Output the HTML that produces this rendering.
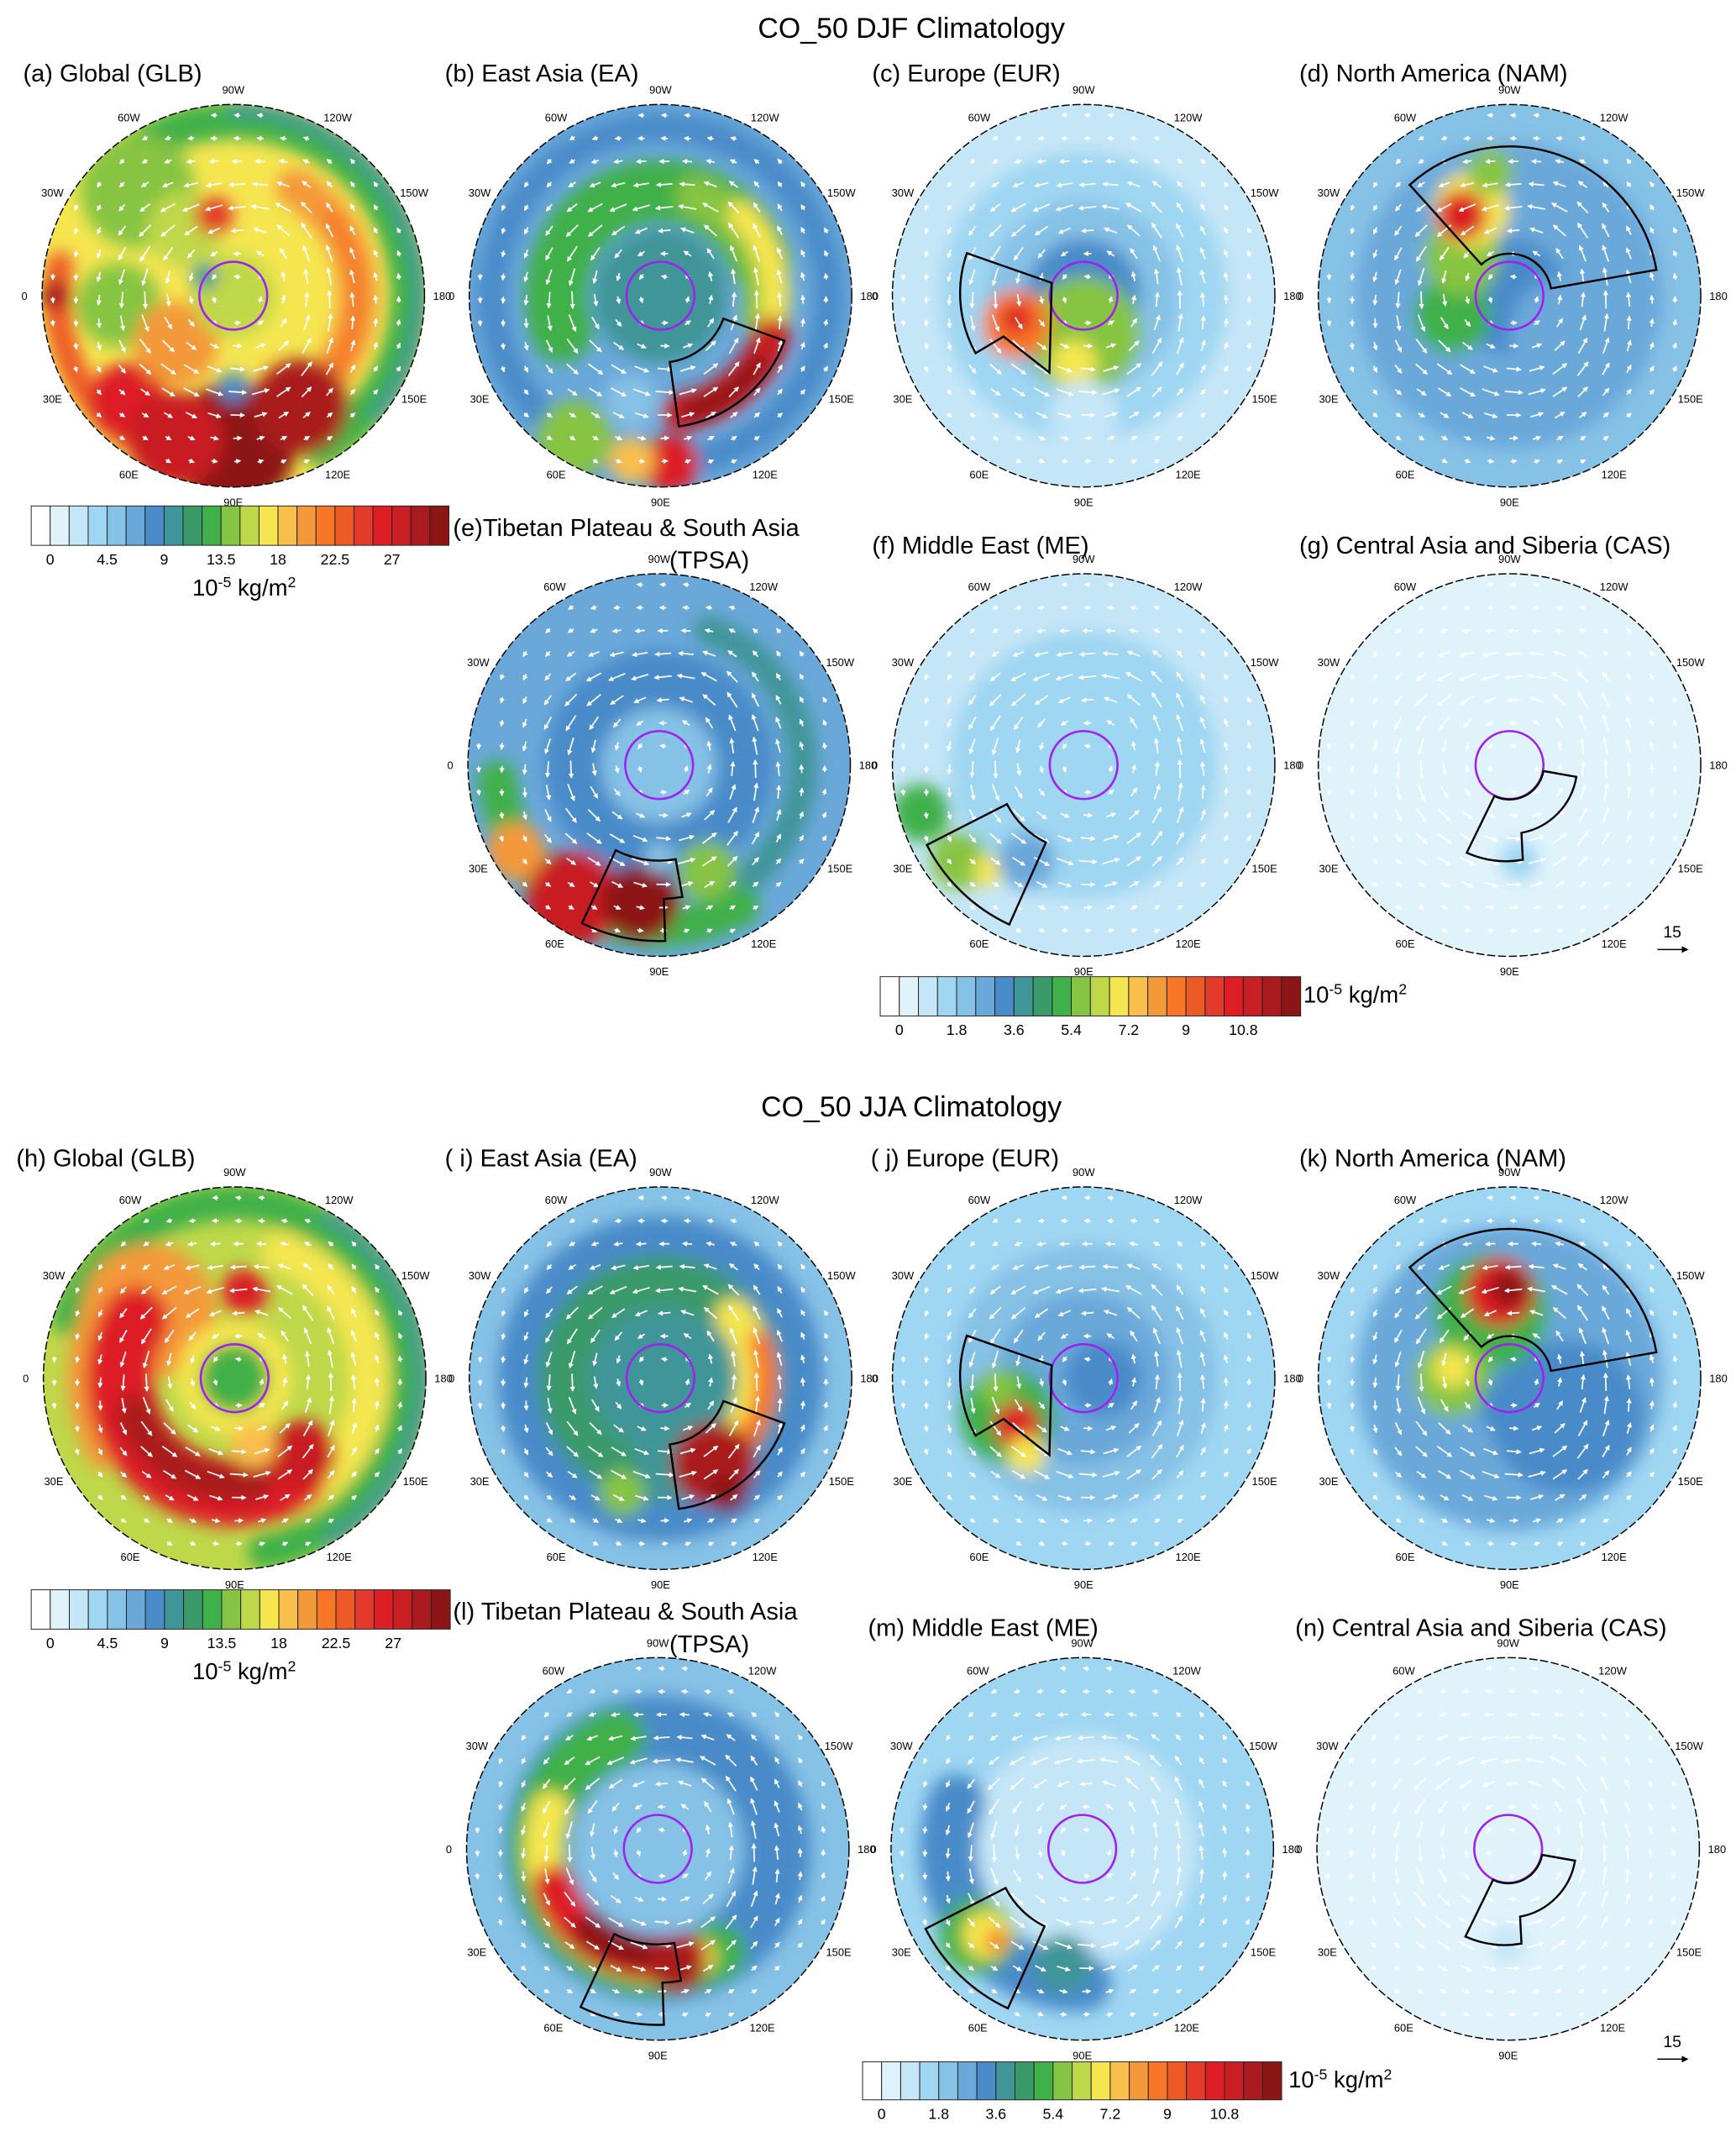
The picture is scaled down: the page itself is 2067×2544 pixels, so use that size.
<!DOCTYPE html>
<html><head><meta charset="utf-8"><style>
html,body{margin:0;padding:0;background:#fff}
svg{display:block}
text{font-family:"Liberation Sans",sans-serif}
</style></head><body>
<svg id="fig" width="2067" height="2544" viewBox="0 0 1280 1575.4" preserveAspectRatio="none" xmlns="http://www.w3.org/2000/svg">
<defs>
<filter id="blur" x="-50%" y="-50%" width="200%" height="200%"><feGaussianBlur stdDeviation="6"/></filter>
<marker id="ah" viewBox="0 0 10 10" refX="8" refY="5" markerWidth="3.5" markerHeight="3.5" orient="auto"><path d="M0,0 L10,5 L0,10 z" fill="#fff"/></marker>
<marker id="ahk" viewBox="0 0 10 10" refX="8" refY="5" markerWidth="5" markerHeight="5" orient="auto"><path d="M0,0 L10,5 L0,10 z" fill="#000"/></marker>
</defs>
<text x="672" y="28" font-size="21" text-anchor="middle">CO_50 DJF Climatology</text>
<text x="672" y="823" font-size="21" text-anchor="middle">CO_50 JJA Climatology</text>
</svg>
<script>
const palette=["#ffffff","#e0f3fb","#c5e6f7","#9fd6f2","#86c1e6","#6aa8da","#4a8bc9","#3f9598","#3a9a6a","#40b04a","#86c443","#bfd84a","#f5e650","#f9bf4d","#f4993a","#f77628","#ee5a25","#e43a2b","#dd1f25","#c81e24","#aa1a1f","#8c1515"];
const globalTicks=["0","4.5","9","13.5","18","22.5","27"];
const regionalTicks=["0","1.8","3.6","5.4","7.2","9","10.8"];
const lonLabels=["90W","120W","150W","180","150E","120E","90E","60E","30E","0","30W","60W"];
const lonAngles=[-90,-60,-30,0,30,60,90,120,150,180,210,240];
const panelIds=["a","b","c","d","e","f","g","h","i","j","k","l","m","n"];
const panelCx=[172,487,799,1113,486,799,1113,173,487,799,1113,485,798,1112];
const panelCy=[218,218,218,218,564,564,564,1016,1016,1016,1016,1363,1363,1363];
const panelTitles=["(a) Global (GLB)","(b) East Asia (EA)","(c) Europe (EUR)","(d) North America (NAM)","(e)Tibetan Plateau & South Asia","(f) Middle East (ME)","(g) Central Asia and Siberia (CAS)","(h) Global (GLB)","( i) East Asia (EA)","( j) Europe (EUR)","(k) North America (NAM)","(l) Tibetan Plateau & South Asia","(m) Middle East (ME)","(n) Central Asia and Siberia (CAS)"];
const titleX=[17,328,643,958,334,643,958,12,328,642,958,334,640,955];
const titleY=[60,60,60,60,395,408,408,860,860,860,860,1194,1206,1206];
const baseColor=[12,5,2,4,5,2,1,11,4,3,3,4,3,1];
// layers: ['c',dx,dy,radius,colorIdx] or ['a',radius,angle1,angle2,width,colorIdx] (unit circle)
const layers=[
 [['a',0.92,230,420,0.2,9],['a',0.98,270,400,0.08,7],['c',-0.5,-0.55,0.3,10],['c',-0.6,0.05,0.22,10],['c',-0.25,-0.35,0.2,11],['a',0.65,-60,80,0.2,14],['a',0.65,-40,60,0.08,15],['a',0.92,110,190,0.14,16],['c',-0.93,0,0.08,20],['c',-0.55,0.55,0.2,18],['c',-0.3,0.25,0.22,14],['c',0,0.78,0.33,21],['c',0.35,0.58,0.25,20],['c',-0.3,0.75,0.25,19],['c',-0.1,-0.42,0.1,17],['c',0,0,0.22,11],['c',-0.15,-0.1,0.07,7],['c',0,0.48,0.08,6]],
 [['a',0.88,0,360,0.15,6],['a',0.55,160,340,0.32,9],['c',0,0,0.35,7],['a',0.55,-70,10,0.22,10],['a',0.6,-45,20,0.15,12],['a',0.62,20,80,0.2,19],['a',0.62,35,75,0.1,21],['c',0.05,0.88,0.15,18],['c',-0.15,0.86,0.12,13],['c',-0.45,0.75,0.2,10],['c',-0.15,0.55,0.14,4]],
 [['c',0,0,0.75,3],['c',0,0,0.5,4],['c',0,0,0.3,6],['c',0,0.2,0.3,10],['c',-0.35,0.15,0.18,15],['c',-0.35,0.12,0.08,18],['c',-0.05,0.35,0.12,12],['c',0,0.62,0.18,2]],
 [['c',0,0,0.8,5],['c',0,0,0.3,6],['c',0.3,0.2,0.3,5],['c',-0.3,0.1,0.2,9],['c',-0.25,-0.2,0.2,10],['c',-0.2,-0.45,0.2,12],['c',-0.1,-0.65,0.12,10],['c',-0.25,-0.42,0.13,18]],
 [['a',0.45,0,360,0.3,6],['c',0,0,0.3,4],['a',0.75,-70,60,0.15,7],['a',0.85,60,175,0.2,9],['c',-0.45,0.7,0.25,19],['c',-0.1,0.72,0.2,21],['c',-0.75,0.45,0.15,14],['c',0.25,0.55,0.15,10],['c',0,0.48,0.08,4]],
 [['c',0,0,0.7,3],['c',-0.85,0.25,0.15,9],['c',-0.65,0.5,0.15,10],['c',-0.5,0.55,0.08,12],['c',-0.35,0.45,0.06,15],['c',-0.3,0.5,0.15,5]],
 [['c',0.05,0.5,0.1,3]],
 [['a',0.92,200,440,0.18,9],['a',0.98,300,420,0.08,7],['a',0.7,-70,60,0.2,12],['c',-0.45,-0.35,0.35,14],['c',-0.55,-0.3,0.2,15],['a',0.8,150,220,0.15,14],['a',0.6,60,210,0.35,18],['a',0.55,80,160,0.2,20],['c',0.35,0.4,0.18,19],['c',0.05,-0.45,0.12,18],['c',0,0,0.3,12],['c',0,0,0.18,9],['c',0.1,0.35,0.12,13]],
 [['c',0,0,0.85,6],['c',0,0,0.65,7],['a',0.5,120,300,0.25,8],['c',0,0,0.25,7],['a',0.5,-40,30,0.2,12],['a',0.55,-20,40,0.12,15],['c',0.28,0.45,0.22,20],['c',0.35,0.6,0.1,21],['c',-0.2,0.6,0.12,10]],
 [['c',0,0,0.7,4],['c',0,0,0.45,5],['c',0.1,0,0.2,6],['c',-0.4,0.2,0.25,9],['c',-0.35,0.25,0.12,18],['c',-0.3,0.4,0.1,12],['c',-0.45,0.05,0.1,10]],
 [['c',0,0,0.8,5],['c',0.3,0.2,0.4,6],['c',-0.1,-0.35,0.3,9],['c',-0.3,0,0.2,10],['c',-0.05,-0.45,0.18,18],['c',0,-0.47,0.1,21],['c',-0.3,-0.05,0.1,12],['c',0.05,0.15,0.2,6]],
 [['c',0,0,0.8,6],['c',0,0,0.45,4],['a',0.62,60,250,0.3,9],['a',0.6,70,200,0.2,12],['a',0.58,75,160,0.22,18],['a',0.55,80,130,0.18,21],['c',0.1,0.6,0.15,20]],
 [['c',0,0,0.6,2],['a',0.7,90,200,0.3,6],['c',-0.55,0.45,0.2,9],['c',-0.5,0.45,0.13,12],['c',-0.45,0.48,0.06,15],['c',-0.1,0.6,0.15,7]],
 [['c',0,0.5,0.1,2]]
];
// source-region box vertices [angleDeg, r]
const boxes=[null,
 [[20,0.35],[20,0.69],[82,0.69],[82,0.35]],
 [[200,0.65],[202,0.18],[114,0.44],[153,0.47],[152,0.64]],
 [[228,0.22],[228,0.78],[350,0.78],[350,0.22]],
 [[117,0.5],[80,0.5],[80,0.7],[88,0.7],[88,0.92],[116,0.92]],
 [[153,0.45],[116,0.45],[115,0.92],[153,0.92]],
 [[10,0.18],[10,0.355],[80,0.36],[82,0.5],[116,0.51],[116,0.18]],
 null,
 [[20,0.35],[20,0.69],[82,0.69],[82,0.35]],
 [[200,0.65],[202,0.18],[114,0.44],[153,0.47],[152,0.64]],
 [[228,0.22],[228,0.78],[350,0.78],[350,0.22]],
 [[117,0.5],[80,0.5],[80,0.7],[88,0.7],[88,0.92],[116,0.92]],
 [[153,0.45],[116,0.45],[115,0.92],[153,0.92]],
 [[10,0.18],[10,0.355],[80,0.36],[82,0.5],[116,0.51],[116,0.18]]];
const R=141;
const svg=document.getElementById('fig');
const NS="http://www.w3.org/2000/svg";
function mk(tag,attrs,parent){const e=document.createElementNS(NS,tag);for(const k in attrs)e.setAttribute(k,attrs[k]);(parent||svg).appendChild(e);return e;}
const T=Math.PI/180;
function pt(cx,cy,a,r){return [cx+Math.cos(a*T)*r*R,cy+Math.sin(a*T)*r*R];}
function boxPath(cx,cy,v){let d='';
 for(let k=0;k<v.length;k++){const p=pt(cx,cy,v[k][0],v[k][1]);
  if(k===0){d+=`M${p[0]},${p[1]}`;}
  const n=v[(k+1)%v.length];const q=pt(cx,cy,n[0],n[1]);
  if(Math.abs(n[1]-v[k][1])<0.025&&n[0]!==v[k][0]){const rr=(n[1]+v[k][1])/2*R;const sw=n[0]>v[k][0]?1:0;const lg=Math.abs(n[0]-v[k][0])>180?1:0;d+=` A${rr},${rr} 0 ${lg} ${sw} ${q[0]},${q[1]}`;}
  else d+=` L${q[0]},${q[1]}`;}
 return d+' Z';}
panelIds.forEach((id,i)=>{
 const cx=panelCx[i],cy=panelCy[i];
 const g=mk('g',{});
 
 
 const cp=mk('clipPath',{id:'clip'+id},g);mk('circle',{cx,cy,r:R},cp);
 const fg=mk('g',{'clip-path':`url(#clip${id})`},g);
 mk('circle',{cx,cy,r:R,fill:palette[baseColor[i]]},fg);
 const bg=mk('g',{filter:'url(#blur)'},fg);
 layers[i].forEach(L=>{let e;
  if(L[0]==='c'){e=mk('circle',{cx:cx+L[1]*R,cy:cy+L[2]*R,r:L[3]*R,fill:palette[L[4]]},bg);}
  else{const rr=L[1]*R;let a1=L[2],a2=L[3];
   if(a2-a1>=360){e=mk('circle',{cx,cy,r:rr,fill:'none',stroke:palette[L[5]],'stroke-width':L[4]*R},bg);}
   else{const p=pt(cx,cy,a1,L[1]),q=pt(cx,cy,a2,L[1]);const lg=(a2-a1)>180?1:0;
    e=mk('path',{d:`M${p[0]},${p[1]} A${rr},${rr} 0 ${lg} 1 ${q[0]},${q[1]}`,fill:'none',stroke:palette[L[5]],'stroke-width':L[4]*R,'stroke-linecap':'round'},bg);}}
  
  });
 const ag=mk('g',{stroke:'#fff','stroke-width':1.1,'stroke-opacity':0.95},fg);
 for(let y=-R+8;y<R;y+=17)for(let x=-R+8;x<R;x+=17){
  const rr=Math.hypot(x,y);if(rr>R-5||rr<6)continue;
  const th=Math.atan2(y,x)-Math.PI/2+0.15*Math.sin(x*0.05+y*0.03);
  const u=rr/R;const L=4+9*Math.exp(-Math.pow((u-0.5)/0.2,2));
  const ux=Math.cos(th)*L/2,uy=Math.sin(th)*L/2;
  mk('line',{x1:cx+x-ux,y1:cy+y-uy,x2:cx+x+ux,y2:cy+y+uy,'marker-end':'url(#ah)'},ag);
 }
 mk('circle',{cx,cy,r:R,fill:'none',stroke:'#000','stroke-width':0.9,'stroke-dasharray':'6 2'},g);
 const pc=mk('circle',{cx,cy,r:25,fill:'none',stroke:'#a020f0','stroke-width':1.6},g);
 
 
 if(boxes[i]){const sp=mk('path',{d:boxPath(cx,cy,boxes[i]),fill:'none',stroke:'#000','stroke-width':1.5},g);
  
  }
 lonLabels.forEach((lb,k)=>{const a=lonAngles[k]*T;
  const t=mk('text',{x:cx+Math.cos(a)*(R+13),y:cy+Math.sin(a)*(R+11)+3,'font-size':8,'text-anchor':'middle'},g);t.textContent=lb;
  
  });
 const tt=mk('text',{x:titleX[i],y:titleY[i],'font-size':18});tt.textContent=panelTitles[i];
 
 
 if(id==='e'||id==='l'){const t2=mk('text',{x:523,y:titleY[i]+24,'font-size':18,'text-anchor':'middle'});t2.textContent='(TPSA)';
  
  }
});
function colorbar(x,y,w,h,ticks,unitX,unitY,anchor,name){
 const g=mk('g',{});
 
 
 const bw=w/palette.length;
 palette.forEach((c,k)=>mk('rect',{x:x+k*bw,y,width:bw,height:h,fill:c,stroke:'#222','stroke-width':0.6},g));
 ticks.forEach((t,k)=>{const tx=mk('text',{x:x+(1+3*k)*bw,y:y+h+14,'font-size':11,'text-anchor':'middle'},g);tx.textContent=t;});
 const u=mk('text',{x:unitX,y:unitY,'font-size':17,'text-anchor':anchor},g);
 u.innerHTML='10<tspan dy="-6" font-size="11">-5</tspan><tspan dy="6"> kg/m</tspan><tspan dy="-6" font-size="11">2</tspan>';
}
colorbar(23,373,308,29,globalTicks,180,439,'middle','colorbar-global-djf');
colorbar(649,720,310,29,regionalTicks,961,739,'start','colorbar-regional-djf');
colorbar(23,1172,309,29,globalTicks,180,1238,'middle','colorbar-global-jja');
colorbar(636,1520,309,28,regionalTicks,950,1539,'start','colorbar-regional-jja');
[[691],[1509]].forEach(v=>{
 const t=mk('text',{x:1233,y:v[0],'font-size':12,'text-anchor':'middle'});t.textContent='15';
 
 
 const l=mk('line',{x1:1222,y1:v[0]+9,x2:1244,y2:v[0]+9,stroke:'#000','stroke-width':1,'marker-end':'url(#ahk)'});
 
 
});
</script>
</body></html>
